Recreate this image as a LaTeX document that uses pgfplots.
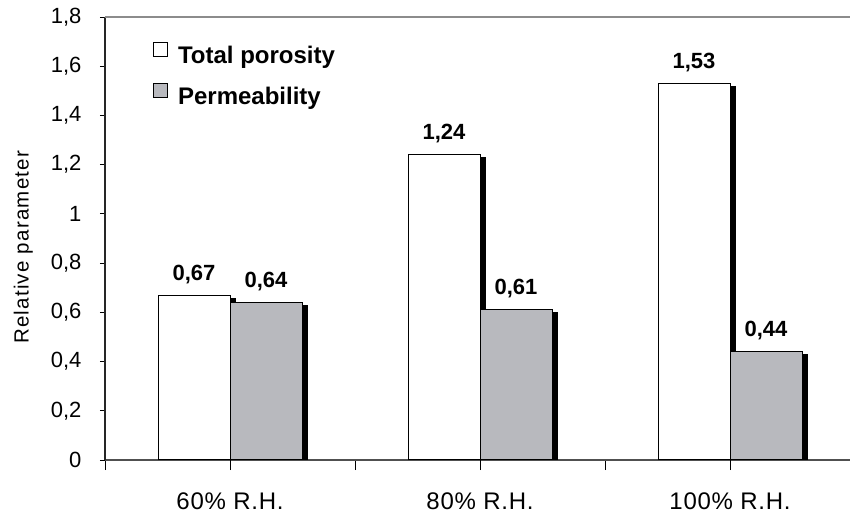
\documentclass[border=0pt]{standalone}
\usepackage{fontspec}
\setmainfont{Liberation Sans}
\usepackage{pgfplots}
\pgfplotsset{compat=1.18}
\usetikzlibrary{shadows}
\definecolor{barGray}{RGB}{184,185,190}
\definecolor{frameGray}{RGB}{140,140,140}
\definecolor{baseGray}{RGB}{80,80,80}

% legend keys are drawn without the bars' drop shadow
\makeatletter
\tikzset{no preactions/.code={\let\tikz@preactions\pgfutil@empty}}
\makeatother
\tikzset{barshadow/.style={drop shadow={shadow xshift=5.5pt, shadow yshift=-3pt, fill=black, opacity=1}}}

\begin{document}
\begin{tikzpicture}
\begin{axis}[
  name=ax,
  at={(105pt,53pt)}, anchor=south west,
  width=750pt, height=443pt, scale only axis,
  xmin=-0.5, xmax=2.5, ymin=0, ymax=1.8,
  ybar=0pt, bar width=72pt,
  axis x line*=bottom, axis y line*=left,
  x axis line style={draw=baseGray, line width=1.4pt},
  y axis line style={draw=black!85, line width=1.2pt},
  tick align=outside,
  major tick length=5pt,
  tick style={black, line width=0.9pt},
  ytick={0,0.2,0.4,0.6,0.8,1,1.2,1.4,1.6,1.8},
  /pgf/number format/use comma,
  /pgf/number format/fixed,
  /pgf/number format/assume math mode=true,
  yticklabel style={font=\fontsize{22}{22}\selectfont, xshift=-15pt},
  xtick={-0.5,0.5,1.5,2.5}, xticklabels={},
  xtick style={/pgfplots/major tick length=10pt},
  extra x ticks={0,1,2},
  extra x tick labels={60\% R.H.,80\% R.H.,100\% R.H.},
  extra x tick style={/pgfplots/major tick length=0pt,
    xticklabel style={font=\fontsize{24}{24}\selectfont\addfontfeature{LetterSpace=3}, anchor=base, yshift=-49pt}},
  ylabel={Relative parameter},
  ylabel style={font=\fontsize{20.5}{20.5}\selectfont\addfontfeature{LetterSpace=6}, at={(axis description cs:-0.109,0.48)}, anchor=center},
  nodes near coords={\pgfmathprintnumber[fixed,fixed zerofill,precision=2,use comma,assume math mode=true]{\pgfplotspointmeta}},
  nodes near coords style={font=\bfseries\fontsize{22}{22}\selectfont, black, anchor=base, yshift=15pt, inner sep=0pt},
  legend style={at={(axis description cs:0.064,0.944)}, anchor=north west,
    draw=none, fill=none, inner sep=0pt,
    font=\bfseries\fontsize{24}{24}\selectfont,
    row sep=16pt,
    /tikz/every odd column/.append style={column sep=8pt}},
  legend cell align=left,
]
\addplot[fill=white, draw=black, line width=1pt, barshadow,
  legend image code/.code={\draw[no preactions, fill=white, draw=black, line width=0.9pt] (0pt,-1pt) rectangle (14pt,13pt);}]
  coordinates {(0,0.67) (1,1.24) (2,1.53)};
\addlegendentry{Total porosity}
\addplot[fill=barGray, draw=black, line width=1pt, barshadow,
  legend image code/.code={\draw[no preactions, fill=barGray, draw=black, line width=0.9pt] (0pt,-1pt) rectangle (14pt,13pt);}]
  coordinates {(0,0.64) (1,0.61) (2,0.44)};
\addlegendentry{Permeability}
\end{axis}
\draw[frameGray, line width=1.4pt] (ax.north west) -- ([xshift=20pt]ax.north east);
\pgfresetboundingbox
\path[use as bounding box] (0,0) rectangle (850pt,513pt);
\end{tikzpicture}
\end{document}
